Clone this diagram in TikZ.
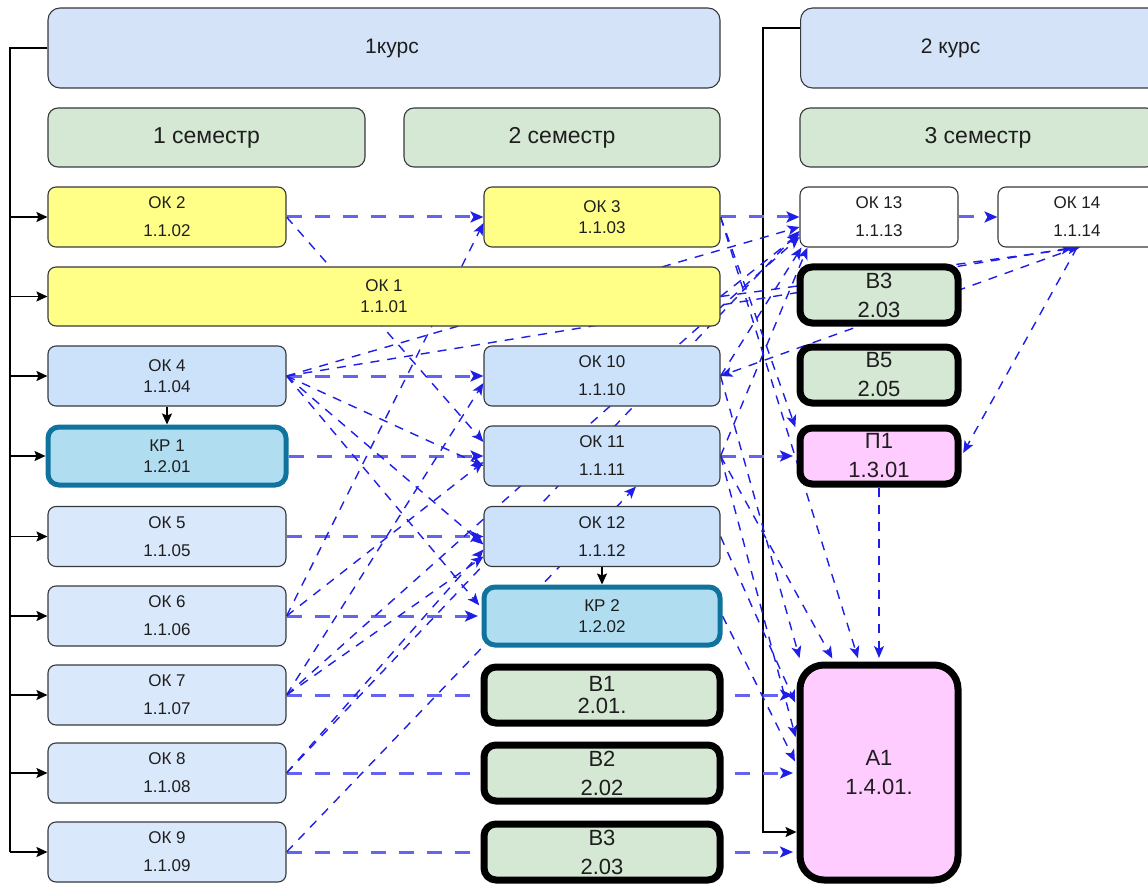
\documentclass[tikz,border=0pt]{standalone}
\usepackage{fontspec}
\setmainfont{Liberation Sans}
\usetikzlibrary{arrows.meta}
\definecolor{kursfill}{HTML}{D4E3F8}
\definecolor{semfill}{HTML}{D5E8D4}
\definecolor{yelfill}{HTML}{FFFF88}
\definecolor{okA}{HTML}{CCE2FB}
\definecolor{okB}{HTML}{DAE8FC}
\definecolor{krfill}{HTML}{B1DDF0}
\definecolor{krdraw}{HTML}{10739E}
\definecolor{pfill}{HTML}{FFCCFF}
\definecolor{edgeA}{HTML}{6464F0}
\definecolor{edgeB}{HTML}{1E1EE6}
\definecolor{txt}{HTML}{1E1E1E}
\definecolor{bord}{HTML}{36393D}
\pgfdeclarelayer{paper}
\pgfdeclarelayer{bg}
\pgfsetlayers{paper,bg,main}
\begin{document}
\begin{tikzpicture}[x=1pt,y=-1pt,
  box/.style={rectangle, rounded corners=8pt, draw=bord, line width=1.1pt, align=center, inner sep=0pt, text=txt},
  kurs/.style={box, fill=kursfill, rounded corners=12pt, font=\fontsize{21}{25}\selectfont, minimum height=80pt},
  sem/.style={box, fill=semfill, rounded corners=10pt, font=\fontsize{23}{27}\selectfont, minimum height=59pt},
  okw/.style={box, font=\fontsize{17}{28}\selectfont, minimum height=60pt},
  okt/.style={box, font=\fontsize{17}{21}\selectfont, minimum height=60pt},
  lc/.style={minimum width=238pt}, mc/.style={minimum width=236pt}, rc/.style={minimum width=158pt},
  yel/.style={fill=yelfill}, lbA/.style={fill=okA}, lbB/.style={fill=okB}, wh/.style={fill=white},
  krbox/.style={box, fill=krfill, draw=krdraw, line width=5pt, rounded corners=11pt, font=\fontsize{17}{21}\selectfont, minimum height=58pt},
  vbox/.style={box, fill=semfill, draw=black, line width=7pt, rounded corners=12pt, minimum height=56pt, font=\fontsize{22}{29}\selectfont},
  hd/.style={draw=edgeA, line width=3pt, dash pattern=on 15pt off 13pt, -{Stealth[length=13pt,width=11pt,inset=3pt,color=edgeB]}},
  dd/.style={draw=edgeB, line width=1.4pt, dash pattern=on 9pt off 8pt, -{Stealth[length=12pt,width=10pt,inset=3pt]}},
  tk/.style={shorten >=3.5pt},
  bk/.style={draw=black, line width=1.5pt},
  bka/.style={bk, -{Stealth[length=11pt,width=10pt,inset=2pt]}}
]
\useasboundingbox (0,0) rectangle (1148,885);
\begin{pgfonlayer}{paper}
\fill[white] (0,0) rectangle (1148,885);
\end{pgfonlayer}
\clip (0,0) rectangle (1148,885);

% headers
\node[kurs, minimum width=672pt] (k1) at (384,48) {\makebox[0pt]{\kern16pt 1курс}};
\node[kurs, minimum width=360pt, anchor=west] (k2) at (800,48) {\makebox[0pt]{\kern-60pt 2 курс}};
\node[sem, minimum width=317pt] (s1) at (206.5,137.5) {1 семестр};
\node[sem, minimum width=316pt] (s2) at (562,137.5) {2 семестр};
\node[sem, minimum width=356pt] (s3) at (978,137.5) {3 семестр};

% left column
\node[okw, lc, yel] (ok2) at (167,217) {ОК 2\\1.1.02};
\node[okt, yel, minimum width=672pt, minimum height=59pt] (ok1) at (384,296.5) {ОК 1\\1.1.01};
\node[okt, lc, lbA] (ok4) at (167,376) {ОК 4\\1.1.04};
\node[krbox, minimum width=238pt] (kr1) at (167,456) {КР 1\\1.2.01};
\node[okw, lc, lbB] (ok5) at (167,536.5) {ОК 5\\1.1.05};
\node[okw, lc, lbB] (ok6) at (167,616) {ОК 6\\1.1.06};
\node[okw, lc, lbB] (ok7) at (167,695) {ОК 7\\1.1.07};
\node[okw, lc, lbB] (ok8) at (167,773) {ОК 8\\1.1.08};
\node[okw, lc, lbB] (ok9) at (167,852) {ОК 9\\1.1.09};

% middle column
\node[okt, mc, yel] (ok3) at (602,217) {ОК 3\\1.1.03};
\node[okw, mc, lbA] (ok10) at (602,376) {ОК 10\\1.1.10};
\node[okw, mc, lbA] (ok11) at (602,456) {ОК 11\\1.1.11};
\node[okw, mc, lbA] (ok12) at (602,536.5) {ОК 12\\1.1.12};
\node[krbox, minimum width=236pt] (kr2) at (602,616) {КР 2\\1.2.02};
\node[vbox, minimum width=236pt, font=\fontsize{22}{22}\selectfont] (b1) at (602,695) {В1\\2.01.};
\node[vbox, minimum width=236pt] (b2) at (602,773) {В2\\2.02};
\node[vbox, minimum width=236pt] (b3) at (602,852) {В3\\2.03};

% right column
\node[okw, rc, wh] (ok13) at (879,217) {ОК 13\\1.1.13};
\node[okw, rc, wh] (ok14) at (1077,217) {ОК 14\\1.1.14};
\node[vbox, minimum width=158pt] (b3r) at (879,295) {В3\\2.03};
\node[vbox, minimum width=158pt] (b5) at (879,375) {В5\\2.05};
\node[vbox, fill=pfill, minimum width=158pt] (p1) at (879,456) {П1\\1.3.01};
\node[vbox, fill=pfill, minimum width=158pt, minimum height=215pt, rounded corners=24pt] (a1) at (879,772.5) {А1\\1.4.01.};

\begin{pgfonlayer}{bg}
% buses
\coordinate (lbus) at (10,48);
\coordinate (rbus) at (763,28);
\draw[bk] (k1.west) -- (lbus) -- (lbus |- ok9.west);
\foreach \n in {ok2,ok1,ok4,kr1,ok5,ok6,ok7,ok8,ok9}
  \draw[bka] (lbus |- \n.west) -- (\n.west);
\draw[bka] ([yshift=20pt]k2.west) -- (rbus) |- ([yshift=-59.5pt]a1.west);
\draw[bka] (ok4.south) -- (kr1.north);
\draw[bka] (ok12.south) -- (kr2.north);

% horizontal dashed
\draw[hd] (ok2.east) -- (ok3.west);
\draw[hd] (ok4.east) -- (ok10.west);
\draw[hd] (kr1.east) -- (ok11.west);
\draw[hd] (ok5.east) -- (ok12.west);
\draw[hd, tk] (ok6.east) -- (kr2.west);
\draw[hd, tk] (ok7.east) -- (ok7.east -| a1.west);
\draw[hd, tk] (ok8.east) -- (ok8.east -| a1.west);
\draw[hd, tk] (ok9.east) -- (ok9.east -| a1.west);
\draw[hd] (ok3.east) -- (ok13.west);
\draw[hd] (ok13.east) -- (ok14.west);
\draw[hd, tk] (ok11.east) -- (p1.west);

% diagonal dashed, left -> middle
\draw[dd] (ok2.east) -- ([yshift=14pt]ok11.west);
\draw[dd] (ok6.east) -- ([yshift=-6pt]ok3.west);
\draw[dd] (ok6.east) -- ([yshift=-6pt]ok11.west);
\draw[dd] (ok7.east) -- ([yshift=-7pt]ok10.west);
\draw[dd] (ok7.east) -- ([yshift=-20pt]ok12.west);
\draw[dd] (ok8.east) -- ([yshift=-13pt]ok12.west);
\draw[dd] (ok9.east) -- ([xshift=34pt]ok11.south);
\draw[dd] (ok4.east) -- ([yshift=-10pt]ok11.west);
\draw[dd] (ok4.east) -- ([yshift=-8pt]ok12.west);
\draw[dd, tk] (ok4.east) -- ([yshift=8pt]kr2.west);

% diagonal dashed, towards the right column
\draw[dd] (ok8.east) -- ([yshift=-14pt]ok13.west);
\draw[dd] (ok7.east) -- ([yshift=-20pt]ok13.west);
\draw[dd] (ok4.east) -- ([yshift=-10pt]ok13.west);
\draw[dd] (ok4.east) -- ([xshift=-4pt]ok14.south);
\draw[dd] (ok1.east) -- ([xshift=3pt]ok14.south);
\draw[dd] (ok1.east) -- ([yshift=-17pt]ok13.west);
\draw[dd] (ok10.east) -- ([xshift=2pt]ok13.south west);
\draw[dd] (ok11.east) -- ([xshift=8pt]ok13.south west);
\draw[dd, tk] (ok3.east) -- ([yshift=-6pt]p1.north west);
\draw[dd, tk] (ok14.south) -- (p1.east);
\draw[dd] (ok14.south) -- (ok10.east);
\draw[dd, tk] (p1.south) -- (a1.north);
\draw[dd, tk] (ok3.east) -- ([xshift=-20pt]a1.north);
\draw[dd, tk] (ok11.east) -- ([xshift=-45pt]a1.north);
\draw[dd, tk] (ok10.east) -- ([xshift=4pt]a1.north west);
\draw[dd, tk] (ok12.east) -- ([yshift=67pt]a1.west);
\draw[dd, tk] (ok11.east) -- ([yshift=32pt]a1.west);
\draw[dd, tk] (kr2.east) -- ([yshift=8pt]a1.west);
\end{pgfonlayer}
\end{tikzpicture}
\end{document}
